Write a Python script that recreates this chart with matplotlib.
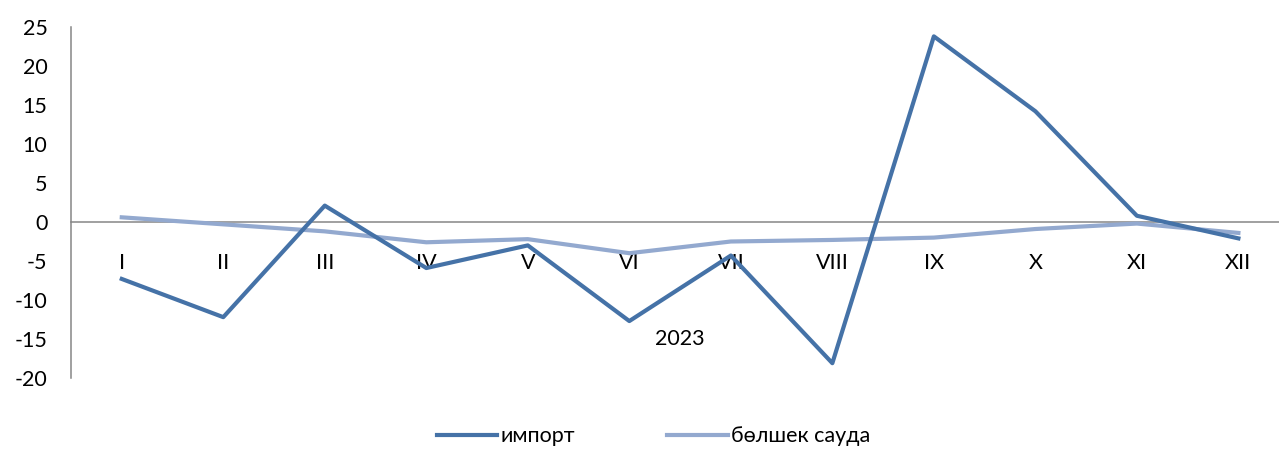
import matplotlib
matplotlib.use('Agg')
import matplotlib.pyplot as plt

# Данные
months = ['I', 'II', 'III', 'IV', 'V', 'VI', 'VII', 'VIII', 'IX', 'X', 'XI', 'XII']
import_vals = [-7.3, -12.2, 2.1, -5.9, -3.0, -12.7, -4.3, -18.1, 23.8, 14.2, 0.8, -2.1]
retail_vals = [0.6, -0.3, -1.2, -2.6, -2.2, -4.0, -2.5, -2.3, -2.0, -0.9, -0.2, -1.4]
year_label = '2023'
series_names = ['импорт', 'бөлшек сауда']
yticks = [-20, -15, -10, -5, 0, 5, 10, 15, 20, 25]

plt.rcParams['font.family'] = ['Lato', 'DejaVu Sans']
FS = 15.5

fig = plt.figure(figsize=(12.79, 4.5), dpi=100)
ax = fig.add_axes([71 / 1279, 0.16, 1 - 71 / 1279, 0.78])

x = list(range(len(months)))
ax.plot(x, import_vals, color='#4572A7', lw=3, label=series_names[0], zorder=3)
ax.plot(x, retail_vals, color='#93A9CF', lw=3, label=series_names[1], zorder=2)

ax.set_xlim(-0.5, 11.4)
ax.set_ylim(-20, 25)

# Оси
for side in ['top', 'right']:
    ax.spines[side].set_visible(False)
ax.spines['left'].set_color('#868686')
ax.spines['left'].set_linewidth(1.1)
ax.spines['bottom'].set_position(('data', 0))
ax.spines['bottom'].set_color('#868686')
ax.spines['bottom'].set_linewidth(1.1)
ax.spines['bottom'].set_zorder(1)

ax.set_yticks(yticks)
ax.set_yticklabels([str(v) for v in yticks], fontsize=FS)
ax.tick_params(axis='y', length=0, pad=17)

ax.set_xticks(x)
ax.set_xticklabels(months, fontsize=FS)
ax.tick_params(axis='x', length=0, pad=22)

ax.annotate(year_label, xy=(5.5, 0), xycoords='data', xytext=(0, -84),
            textcoords='offset points', ha='center', va='center', fontsize=FS)

fig.legend(loc='lower center', bbox_to_anchor=(0.511, -0.035), ncol=2, frameon=False,
           fontsize=FS, handlelength=2.8, handletextpad=0.15, columnspacing=4.3)

fig.savefig('out.png', dpi=100)
